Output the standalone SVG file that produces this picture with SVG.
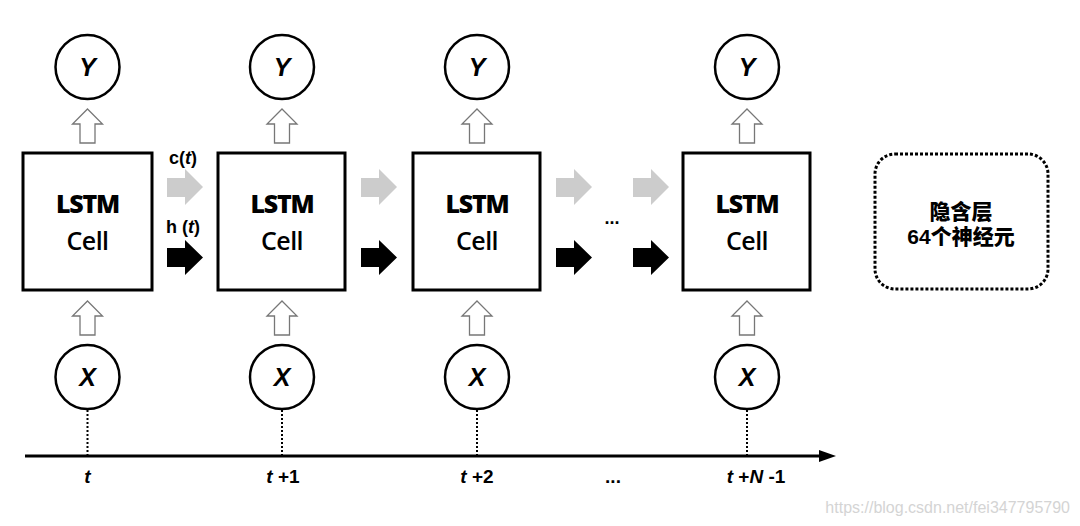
<svg xmlns="http://www.w3.org/2000/svg" width="1080" height="526" viewBox="0 0 1080 526">
<style>
.cell{fill:#fff;stroke:#000;stroke-width:3}
.circ{fill:#fff;stroke:#000;stroke-width:2.5}
.var{font-family:"Liberation Sans",Arial,sans-serif;font-weight:bold;font-style:italic;font-size:25px;text-anchor:middle}
.lstm{font-family:"Open Sans","Liberation Sans",sans-serif;font-weight:800;font-size:25px;text-anchor:middle;letter-spacing:-1.2px}
.celltxt{font-family:"Open Sans","Liberation Sans",sans-serif;font-weight:600;font-size:25px;text-anchor:middle;letter-spacing:-0.5px}
.up{fill:#fff;stroke:#777;stroke-width:1.3}
.c{fill:#cccccc}
.h{fill:#000}
.lbl{font-family:"Liberation Sans",Arial,sans-serif;font-weight:bold;font-size:18px;text-anchor:middle}
.ax{font-family:"Liberation Sans",Arial,sans-serif;font-weight:bold;font-size:19px;text-anchor:middle}
.it{font-style:italic;font-weight:bold}
.dot{stroke:#000;stroke-width:2;stroke-dasharray:2,2}
.cjk{font-family:"Liberation Sans","Noto Sans CJK SC",sans-serif;font-weight:900;font-size:21px;text-anchor:middle}
</style>
<defs>
<polygon id="upArrow" class="up" points="0,0 15,15 7.5,15 7.5,34 -7.5,34 -7.5,15 -15,15"/>
<polygon id="cArrow" class="c" points="0,9 18,9 18,0 36,18 18,36 18,28 0,28"/>
<polygon id="hArrow" class="h" points="0,8 18,8 18,0 36,17.5 18,35 18,27 0,27"/>
</defs>

<g id="connectors">
  <use href="#upArrow" x="87.5" y="109"/>
  <use href="#upArrow" x="282" y="109"/>
  <use href="#upArrow" x="477" y="109"/>
  <use href="#upArrow" x="747" y="109"/>
  <use href="#upArrow" x="87.5" y="301"/>
  <use href="#upArrow" x="282" y="301"/>
  <use href="#upArrow" x="477" y="301"/>
  <use href="#upArrow" x="747" y="301"/>
  <use href="#cArrow" x="167" y="169"/>
  <use href="#cArrow" x="361" y="169"/>
  <use href="#cArrow" x="556" y="169"/>
  <use href="#cArrow" x="633" y="169"/>
  <use href="#hArrow" x="167" y="240"/>
  <use href="#hArrow" x="361" y="240"/>
  <use href="#hArrow" x="556" y="240"/>
  <use href="#hArrow" x="633" y="240"/>
  <line class="dot" x1="87.5" y1="410" x2="87.5" y2="455"/>
  <line class="dot" x1="282" y1="410" x2="282" y2="455"/>
  <line class="dot" x1="477" y1="410" x2="477" y2="455"/>
  <line class="dot" x1="747" y1="410" x2="747" y2="455"/>
  <line x1="25" y1="456" x2="824" y2="456" stroke="#000" stroke-width="3"/>
  <polygon points="819,450 836,456 819,462" fill="#000"/>
  <text class="lbl" x="183" y="164">c(<tspan class="it">t</tspan>)</text>
  <text class="lbl" x="183" y="233">h (<tspan class="it">t</tspan>)</text>
  <text class="lbl" x="612" y="224">...</text>
</g>

<g id="cell1"><rect class="cell" x="23" y="153" width="129" height="137"/><text class="lstm" x="87.5" y="213">LSTM</text><text class="celltxt" x="87.5" y="250">Cell</text></g>
<g id="cell2"><rect class="cell" x="218" y="153" width="127" height="137"/><text class="lstm" x="282" y="213">LSTM</text><text class="celltxt" x="282" y="250">Cell</text></g>
<g id="cell3"><rect class="cell" x="413" y="153" width="127" height="137"/><text class="lstm" x="477" y="213">LSTM</text><text class="celltxt" x="477" y="250">Cell</text></g>
<g id="cell4"><rect class="cell" x="683" y="153" width="127" height="137"/><text class="lstm" x="747" y="213">LSTM</text><text class="celltxt" x="747" y="250">Cell</text></g>

<g id="y1"><circle class="circ" cx="87.5" cy="67" r="32"/><text class="var" x="87.5" y="76">Y</text></g>
<g id="y2"><circle class="circ" cx="282" cy="67" r="32"/><text class="var" x="282" y="76">Y</text></g>
<g id="y3"><circle class="circ" cx="477" cy="67" r="32"/><text class="var" x="477" y="76">Y</text></g>
<g id="y4"><circle class="circ" cx="747" cy="67" r="32"/><text class="var" x="747" y="76">Y</text></g>

<g id="x1"><circle class="circ" cx="87.5" cy="377" r="32"/><text class="var" x="87.5" y="386">X</text></g>
<g id="x2"><circle class="circ" cx="282" cy="377" r="32"/><text class="var" x="282" y="386">X</text></g>
<g id="x3"><circle class="circ" cx="477" cy="377" r="32"/><text class="var" x="477" y="386">X</text></g>
<g id="x4"><circle class="circ" cx="747" cy="377" r="32"/><text class="var" x="747" y="386">X</text></g>

<g id="axis-labels">
  <text class="ax" x="87.5" y="483"><tspan class="it">t</tspan></text>
  <text class="ax" x="283" y="483"><tspan class="it">t</tspan> +1</text>
  <text class="ax" x="477" y="483"><tspan class="it">t</tspan> +2</text>
  <text class="ax" x="613" y="483">...</text>
  <text class="ax" x="756" y="483"><tspan class="it">t</tspan> +<tspan class="it">N</tspan> -1</text>
</g>

<g id="hidden">
  <rect x="875" y="154" width="173" height="135" rx="20" fill="none" stroke="#000" stroke-width="3" stroke-dasharray="3,2"/>
  <text class="cjk" x="961" y="219">隐含层</text>
  <text class="cjk" x="961" y="244">64个神经元</text>
</g>

<text x="1070" y="513" text-anchor="end" font-family="Liberation Sans,Arial,sans-serif" font-size="16" fill="#d4d4d4">https://blog.csdn.net/fei347795790</text>
</svg>
